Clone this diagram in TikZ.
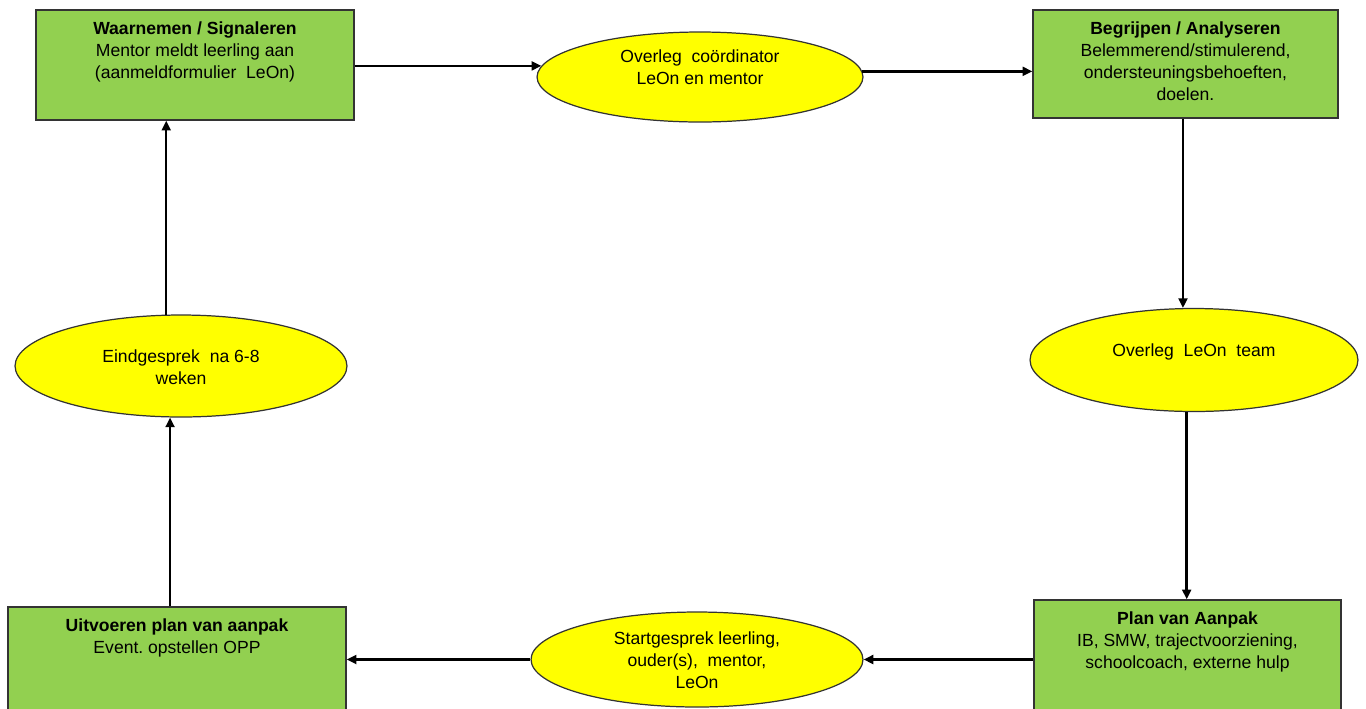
\documentclass[tikz,border=0pt]{standalone}
\usepackage{fontspec}
\setmainfont{Liberation Sans}
\usetikzlibrary{arrows.meta,shapes.geometric}
\definecolor{leafgreen}{RGB}{146,208,80}
\definecolor{lemon}{RGB}{255,255,0}

\begin{document}
\begin{tikzpicture}[x=0.02cm,y=-0.02cm,>={Triangle[length=5.5pt,width=5pt]},
  every node/.style={font=\fontsize{10}{12.5}\selectfont,align=center},
  stepbox/.style 2 args={draw=black!80,line width=0.8pt,fill=leafgreen,inner sep=0pt,minimum width=#1,minimum height=#2},
  talk/.style 2 args={ellipse,draw=black!80,line width=0.7pt,fill=lemon,inner sep=0pt,minimum width=#1,minimum height=#2},
  txt/.style={anchor=north,inner sep=0pt,yshift=#1},
  flow/.style={->,line width=1.4pt}]
\useasboundingbox (0,0) rectangle (1366,708);
% the four steps
\node[stepbox={6.36cm}{2.2cm},label={[txt=-0.24cm]north:{\textbf{Waarnemen / Signaleren}\\Mentor meldt leerling aan\\(aanmeldformulier\ \ LeOn)}}] (b1) at (195,65) {};
\node[stepbox={6.10cm}{2.16cm},label={[txt=-0.24cm]north:{\textbf{Begrijpen / Analyseren}\\Belemmerend/stimulerend,\\ondersteuningsbehoeften,\\doelen.}}] (b3) at (1185.5,64) {};
\node[stepbox={6.14cm}{2.24cm},label={[txt=-0.24cm]north:{\textbf{Plan van Aanpak}\\IB, SMW, trajectvoorziening,\\schoolcoach, externe hulp}}] (br) at (1187.5,656) {};
\node[stepbox={6.76cm}{2.2cm},label={[txt=-0.24cm]north:{\textbf{Uitvoeren plan van aanpak}\\Event.\ opstellen OPP}}] (bl) at (177,662) {};
% the talks in between
\node[talk={6.52cm}{1.8cm},label={[txt=-0.36cm]north:{Overleg\ \ co\"ordinator\\LeOn en mentor}}] (e1) at (700,77) {};
\node[talk={6.56cm}{2.06cm},label={[txt=-0.72cm]north:{Overleg\ \ LeOn\ \ team}}] (er) at (1194,360) {};
\node[talk={6.64cm}{1.9cm},label={[txt=-0.40cm]north:{Startgesprek leerling,\\ouder(s),\ \ mentor,\\LeOn}}] (eb) at (697,659.5) {};
\node[talk={6.64cm}{2.04cm},label={[txt=-0.70cm]north:{Eindgesprek\ \ na 6-8\\weken}}] (el) at (181,366) {};
% the cycle
\draw[flow] (e1.176 -| b1.east) -- (e1.176);
\draw[flow] (e1.2) -- (e1.2 -| b3.west);
\draw[flow] (er.102 |- b3.south) -- (er.102);
\draw[flow] (er.262) -- (er.262 |- br.north);
\draw[flow] (eb.east -| br.west) -- (eb.east);
\draw[flow] (eb.west) -- (eb.west -| bl.east);
\draw[flow] (el.258 |- bl.north) -- (el.258);
\draw[flow] (el.106) -- (el.106 |- b1.south);
\end{tikzpicture}
\end{document}
